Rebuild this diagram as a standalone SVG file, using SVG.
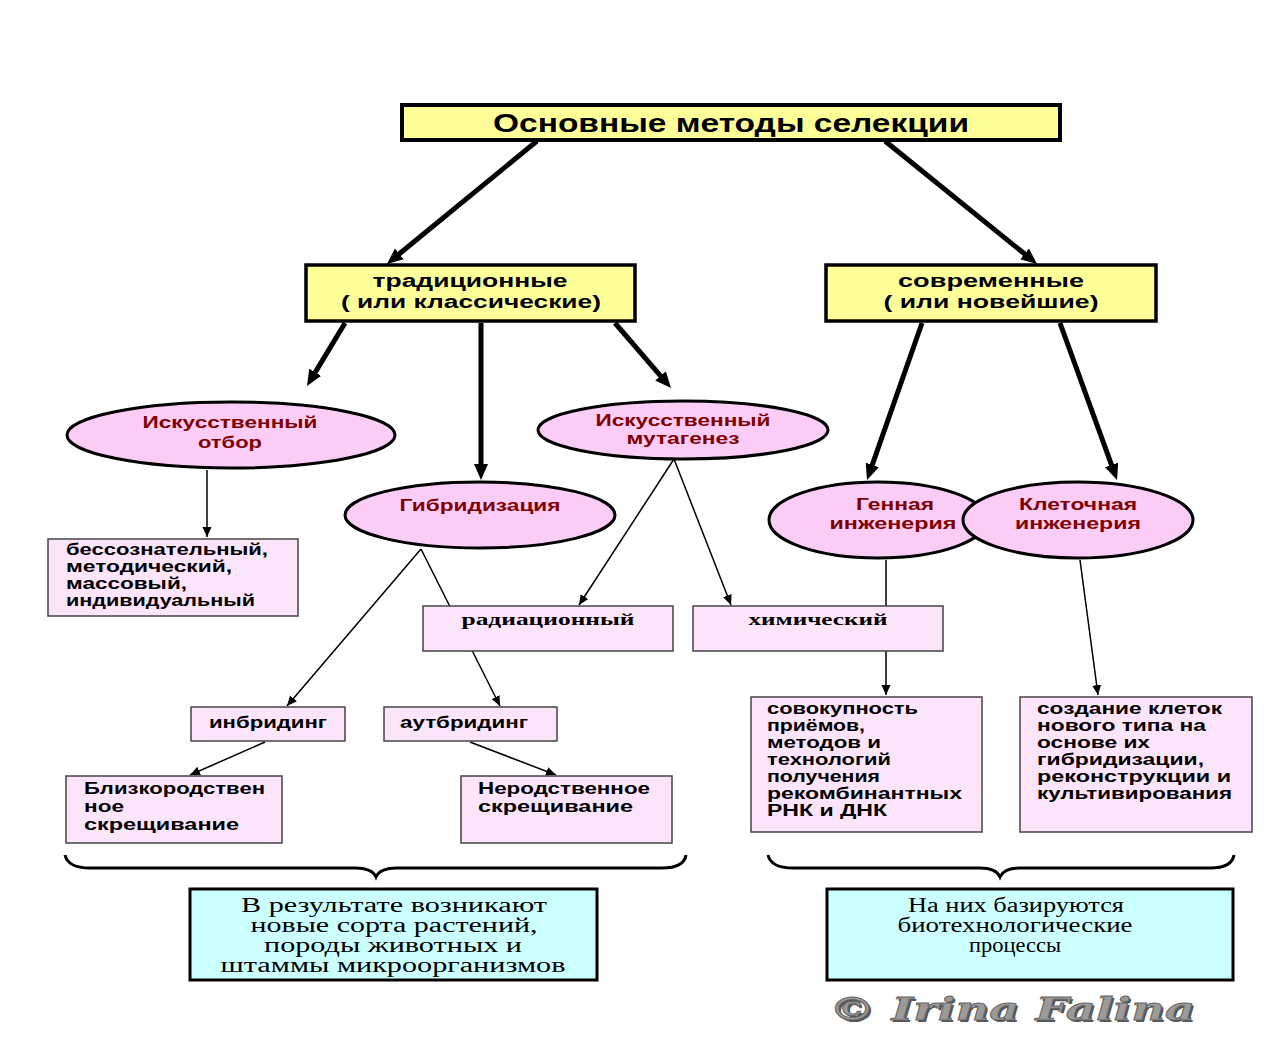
<svg xmlns="http://www.w3.org/2000/svg" width="1276" height="1063" viewBox="0 0 1276 1063">
<defs>
<marker id="thick" markerUnits="userSpaceOnUse" markerWidth="18" markerHeight="16" refX="3" refY="7" orient="auto">
<path d="M0,0 L16,7 L0,14 z" fill="#000"/>
</marker>
<marker id="thin" markerUnits="userSpaceOnUse" markerWidth="12" markerHeight="10" refX="10" refY="4.5" orient="auto">
<path d="M0,0 L10,4.5 L0,9 z" fill="#000"/>
</marker>
</defs>
<style>
.sans{font-family:"Liberation Sans",Arial,sans-serif;font-weight:bold;fill:#000}
.serif{font-family:"Liberation Serif","Times New Roman",serif}
.red{fill:#800000}
.yel{fill:#FFFF99;stroke:#000;stroke-width:3.5}
.ell{fill:#FACCF6;stroke:#000;stroke-width:3}
.pink{fill:#FCE4FA;stroke:#444;stroke-width:1.5}
.cyan{fill:#CCFFFF;stroke:#000;stroke-width:3}
.tk{stroke:#000;stroke-width:5;fill:none;marker-end:url(#thick)}
.tn{stroke:#000;stroke-width:1.5;fill:none;marker-end:url(#thin)}
.brace{stroke:#000;stroke-width:3;fill:none}
</style>
<rect width="1276" height="1063" fill="#fff"/>

<g id="connectors">
<line class="tk" x1="537" y1="141" x2="397" y2="255.8"/>
<line class="tk" x1="885" y1="141" x2="1026.9" y2="255.8"/>
<line class="tk" x1="345" y1="323" x2="313.7" y2="374.9"/>
<line class="tk" x1="481" y1="323" x2="481" y2="467"/>
<line class="tk" x1="615" y1="323" x2="662.5" y2="378.1"/>
<line class="tk" x1="922" y1="323" x2="871.3" y2="467.7"/>
<line class="tk" x1="1060" y1="323" x2="1112.6" y2="467.8"/>
<line class="tn" x1="207" y1="470" x2="207" y2="537"/>
<line class="tn" x1="421" y1="549" x2="287" y2="706"/>
<line class="tn" x1="421" y1="549" x2="500" y2="706"/>
<line class="tn" x1="674" y1="459" x2="579" y2="605"/>
<line class="tn" x1="674" y1="459" x2="731" y2="605"/>
<line class="tn" x1="886" y1="560" x2="886" y2="695"/>
<line class="tn" x1="1080" y1="560" x2="1098" y2="695"/>
<line class="tn" x1="265" y1="742" x2="190" y2="775"/>
<line class="tn" x1="470" y1="742" x2="556" y2="775"/>
<path class="brace" d="M65,855 Q68,868 90,868 L355,868 Q372,868 376,877 Q380,868 397,868 L662,868 Q684,868 686,855"/>
<path class="brace" d="M768,855 Q771,868 793,868 L980,868 Q996,868 1000,877 Q1004,868 1020,868 L1210,868 Q1232,868 1234,855"/>
</g>

<g id="title">
<rect class="yel" x="402" y="105" width="658" height="35" style="stroke-width:4"/>
<text class="sans" x="731" y="132" font-size="25" text-anchor="middle" textLength="476" lengthAdjust="spacingAndGlyphs">Основные методы селекции</text>
</g>

<g id="traditional">
<rect class="yel" x="306" y="265" width="329" height="56"/>
<text class="sans" font-size="18" text-anchor="middle"><tspan x="470" y="287" textLength="195" lengthAdjust="spacingAndGlyphs">традиционные</tspan><tspan x="471" y="308" textLength="260" lengthAdjust="spacingAndGlyphs">( или классические)</tspan></text>
</g>

<g id="modern">
<rect class="yel" x="826" y="265" width="330" height="56"/>
<text class="sans" font-size="18" text-anchor="middle"><tspan x="991" y="287" textLength="186" lengthAdjust="spacingAndGlyphs">современные</tspan><tspan x="991" y="308" textLength="215" lengthAdjust="spacingAndGlyphs">( или новейшие)</tspan></text>
</g>

<g id="otbor">
<ellipse class="ell" cx="231" cy="435" rx="164" ry="33"/>
<text class="sans red" font-size="17" text-anchor="middle"><tspan x="230" y="428" textLength="175" lengthAdjust="spacingAndGlyphs">Искусственный</tspan><tspan x="230" y="448" textLength="64" lengthAdjust="spacingAndGlyphs">отбор</tspan></text>
</g>

<g id="mutagenez">
<ellipse class="ell" cx="683" cy="430" rx="145" ry="29"/>
<text class="sans red" font-size="17" text-anchor="middle"><tspan x="683" y="426" textLength="175" lengthAdjust="spacingAndGlyphs">Искусственный</tspan><tspan x="683" y="444" textLength="113" lengthAdjust="spacingAndGlyphs">мутагенез</tspan></text>
</g>

<g id="gibrid">
<ellipse class="ell" cx="480" cy="515" rx="135" ry="33"/>
<text class="sans red" x="480" y="511" font-size="17" text-anchor="middle" textLength="161" lengthAdjust="spacingAndGlyphs">Гибридизация</text>
</g>

<g id="gennaya">
<ellipse class="ell" cx="878" cy="520" rx="109" ry="38"/>
<text class="sans red" font-size="17" text-anchor="middle"><tspan x="895" y="510" textLength="78" lengthAdjust="spacingAndGlyphs">Генная</tspan><tspan x="893" y="529" textLength="127" lengthAdjust="spacingAndGlyphs">инженерия</tspan></text>
</g>

<g id="kletochnaya">
<ellipse class="ell" cx="1078" cy="520" rx="115" ry="38"/>
<text class="sans red" font-size="17" text-anchor="middle"><tspan x="1078" y="510" textLength="118" lengthAdjust="spacingAndGlyphs">Клеточная</tspan><tspan x="1078" y="529" textLength="126" lengthAdjust="spacingAndGlyphs">инженерия</tspan></text>
</g>

<g id="otbor-types">
<rect class="pink" x="48" y="539" width="250" height="77"/>
<text class="sans" font-size="16"><tspan x="66" y="555" textLength="202" lengthAdjust="spacingAndGlyphs">бессознательный,</tspan><tspan x="66" y="572" textLength="166" lengthAdjust="spacingAndGlyphs">методический,</tspan><tspan x="66" y="589" textLength="121" lengthAdjust="spacingAndGlyphs">массовый,</tspan><tspan x="66" y="606" textLength="189" lengthAdjust="spacingAndGlyphs">индивидуальный</tspan></text>
</g>

<g id="radiation">
<rect class="pink" x="423" y="606" width="250" height="45"/>
<text class="serif" x="548" y="625" font-size="17" font-weight="bold" text-anchor="middle" textLength="173" lengthAdjust="spacingAndGlyphs">радиационный</text>
</g>

<g id="chemical">
<rect class="pink" x="693" y="606" width="250" height="45"/>
<text class="serif" x="818" y="625" font-size="17" font-weight="bold" text-anchor="middle" textLength="139" lengthAdjust="spacingAndGlyphs">химический</text>
</g>

<g id="inbreeding">
<rect class="pink" x="191" y="707" width="154" height="34"/>
<text class="sans" x="268" y="728" font-size="16" text-anchor="middle" textLength="118" lengthAdjust="spacingAndGlyphs">инбридинг</text>
</g>

<g id="outbreeding">
<rect class="pink" x="384" y="707" width="173" height="34"/>
<text class="sans" x="400" y="728" font-size="16" textLength="128" lengthAdjust="spacingAndGlyphs">аутбридинг</text>
</g>

<g id="close-crossing">
<rect class="pink" x="66" y="776" width="216" height="67"/>
<text class="sans" font-size="16"><tspan x="84" y="794" textLength="181" lengthAdjust="spacingAndGlyphs">Близкородствен</tspan><tspan x="84" y="812" textLength="40" lengthAdjust="spacingAndGlyphs">ное</tspan><tspan x="84" y="830" textLength="155" lengthAdjust="spacingAndGlyphs">скрещивание</tspan></text>
</g>

<g id="unrelated-crossing">
<rect class="pink" x="461" y="776" width="211" height="67"/>
<text class="sans" font-size="16"><tspan x="478" y="794" textLength="172" lengthAdjust="spacingAndGlyphs">Неродственное</tspan><tspan x="478" y="812" textLength="155" lengthAdjust="spacingAndGlyphs">скрещивание</tspan></text>
</g>

<g id="gene-desc">
<rect class="pink" x="751" y="697" width="231" height="135"/>
<text class="sans" font-size="16"><tspan x="767" y="714" textLength="151" lengthAdjust="spacingAndGlyphs">совокупность</tspan><tspan x="767" y="731" textLength="98" lengthAdjust="spacingAndGlyphs">приёмов,</tspan><tspan x="767" y="748" textLength="114" lengthAdjust="spacingAndGlyphs">методов и</tspan><tspan x="767" y="765" textLength="124" lengthAdjust="spacingAndGlyphs">технологий</tspan><tspan x="767" y="782" textLength="113" lengthAdjust="spacingAndGlyphs">получения</tspan><tspan x="767" y="799" textLength="195" lengthAdjust="spacingAndGlyphs">рекомбинантных</tspan><tspan x="767" y="816" textLength="120" lengthAdjust="spacingAndGlyphs">РНК и ДНК</tspan></text>
</g>

<g id="cell-desc">
<rect class="pink" x="1020" y="697" width="232" height="135"/>
<text class="sans" font-size="16"><tspan x="1037" y="714" textLength="185" lengthAdjust="spacingAndGlyphs">создание клеток</tspan><tspan x="1037" y="731" textLength="169" lengthAdjust="spacingAndGlyphs">нового типа на</tspan><tspan x="1037" y="748" textLength="113" lengthAdjust="spacingAndGlyphs">основе их</tspan><tspan x="1037" y="765" textLength="167" lengthAdjust="spacingAndGlyphs">гибридизации,</tspan><tspan x="1037" y="782" textLength="194" lengthAdjust="spacingAndGlyphs">реконструкции и</tspan><tspan x="1037" y="799" textLength="195" lengthAdjust="spacingAndGlyphs">культивирования</tspan></text>
</g>

<g id="result-left">
<rect class="cyan" x="190" y="889" width="407" height="91"/>
<text class="serif" font-size="20" text-anchor="middle" fill="#000"><tspan x="394" y="912" textLength="306" lengthAdjust="spacingAndGlyphs">В результате возникают</tspan><tspan x="394" y="932" textLength="287" lengthAdjust="spacingAndGlyphs">новые сорта растений,</tspan><tspan x="393" y="952" textLength="258" lengthAdjust="spacingAndGlyphs">породы животных и</tspan><tspan x="393" y="972" textLength="345" lengthAdjust="spacingAndGlyphs">штаммы микроорганизмов</tspan></text>
</g>

<g id="result-right">
<rect class="cyan" x="827" y="889" width="406" height="91"/>
<text class="serif" font-size="20" text-anchor="middle" fill="#000"><tspan x="1016" y="912" textLength="216" lengthAdjust="spacingAndGlyphs">На них базируются</tspan><tspan x="1015" y="932" textLength="235" lengthAdjust="spacingAndGlyphs">биотехнологические</tspan><tspan x="1015" y="952" textLength="92" lengthAdjust="spacingAndGlyphs">процессы</tspan></text>
</g>

<g id="copyright">
<text x="831" y="1022" font-family="'DejaVu Serif',serif" font-style="italic" font-weight="bold" font-size="32" fill="#555" textLength="366" lengthAdjust="spacingAndGlyphs">© Irina Falina</text>
<text x="829" y="1020" font-family="'DejaVu Serif',serif" font-style="italic" font-weight="bold" font-size="32" fill="#9a9a9a" stroke="#666" stroke-width="0.8" textLength="366" lengthAdjust="spacingAndGlyphs">© Irina Falina</text>
</g>
</svg>
